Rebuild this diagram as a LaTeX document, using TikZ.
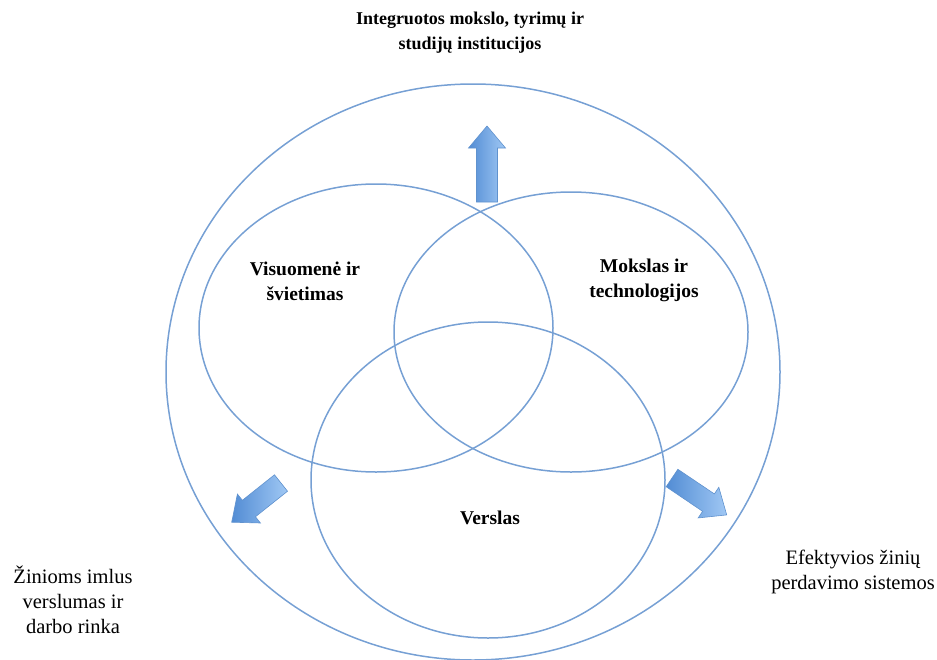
\documentclass[tikz,border=0pt]{standalone}
\usepackage{fontspec}
\setmainfont{Liberation Serif}
\definecolor{ringblue}{RGB}{118,160,212}
\definecolor{arrowdark}{RGB}{82,140,212}
\definecolor{arrowlight}{RGB}{160,200,244}
\definecolor{arrowedge}{RGB}{96,146,206}
% block arrow: tail centre, direction angle, total length
\newcommand\flowarrow[3]{%
  \begin{scope}[shift={#1},rotate=#2]
    \path[arrowbody] (0,-10.5) -- ({#3-22},-10.5) -- ({#3-22},-18.5) -- (#3,0)
      -- ({#3-22},18.5) -- ({#3-22},10.5) -- (0,10.5) -- cycle;
  \end{scope}}
\begin{document}
\begin{tikzpicture}[x=1pt,y=-1pt,
  ring/.style={draw=ringblue,line width=1.5pt},
  arrowbody/.style={draw=arrowedge,line width=0.6pt,left color=arrowdark,right color=arrowlight},
  title/.style={font=\fontsize{18}{25}\selectfont\bfseries,align=center,inner sep=0pt},
  label/.style={font=\fontsize{19.5}{25}\selectfont\bfseries,align=center,inner sep=0pt},
  side/.style={font=\fontsize{20.5}{25}\selectfont,align=center,inner sep=0pt}]
\useasboundingbox (0,0) rectangle (937,659);

% outer ring and the three overlapping fields
\draw[ring] (473,372) ellipse [x radius=307, y radius=288];
\draw[ring] (376,328) ellipse [x radius=177, y radius=144];
\draw[ring] (571,332) ellipse [x radius=177, y radius=140];
\draw[ring] (488,480) ellipse [x radius=177, y radius=158];

% outward arrows
\flowarrow{(487,202)}{90}{76}
\flowarrow{(281,483)}{218.5}{63}
\flowarrow{(672,478)}{-34}{66}

% texts
\node[title] (inst) at (470,33) {Integruotos mokslo, tyrimų ir\\studijų institucijos};
\node[label] (soc) at (305,281) {Visuomenė ir\\švietimas};
\node[label] (sci) at (644,280) {Mokslas ir\\technologijos};
\node[label] (bus) at (490,518) {Verslas};
\node[side] (work) at (73,600) {Žinioms imlus\\verslumas ir\\darbo rinka};
\node[side] (trans) at (853,572) {Efektyvios žinių\\perdavimo sistemos};
\end{tikzpicture}
\end{document}
